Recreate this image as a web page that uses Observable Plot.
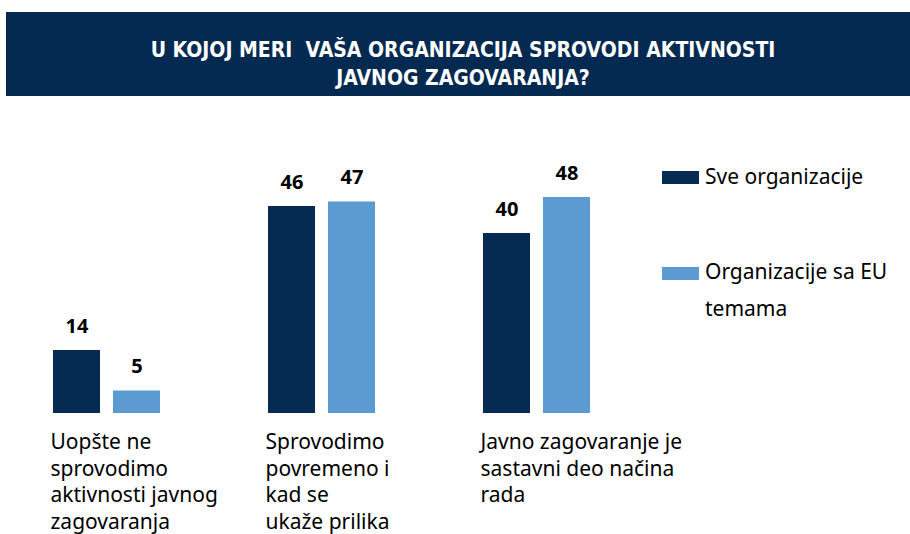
<!DOCTYPE html>
<html><head><meta charset="utf-8">
<script src="https://cdn.jsdelivr.net/npm/d3@7"></script>
<script src="https://cdn.jsdelivr.net/npm/@observablehq/plot@0.6"></script>
<style>
body{margin:0;width:910px;height:534px;overflow:hidden;background:#fff;position:relative;font-family:"Noto Sans",sans-serif}
#title{position:absolute;left:6px;top:12px;width:904px;height:84px;background:#052a52;color:#fff;font-family:"Liberation Sans Narrow","DejaVu Sans Condensed",sans-serif;font-weight:bold;font-size:21px;text-align:center;line-height:28px;box-sizing:border-box;padding-top:24px;padding-left:10px;white-space:pre}
#chart{position:absolute;left:0;top:96px}
.sw{position:absolute;width:37px;height:13px}
.lt{position:absolute;left:705px;font-size:21px;line-height:37px;color:#000;white-space:nowrap}
</style></head>
<body>
<div id="title"></div>
<div id="chart"></div>
<div id="legend"></div>
<script>
const titleLines = ["U KOJOJ MERI  VAŠA ORGANIZACIJA SPROVODI AKTIVNOSTI", "JAVNOG ZAGOVARANJA?"];
const categories = ["Uopšte ne sprovodimo aktivnosti javnog zagovaranja", "Sprovodimo povremeno i kad se ukaže prilika", "Javno zagovaranje je sastavni deo načina rada"];
const categoryLabels = ["Uopšte ne\nsprovodimo\naktivnosti javnog\nzagovaranja", "Sprovodimo\npovremeno i\nkad se\nukaže prilika", "Javno zagovaranje je\nsastavni deo načina\nrada"];
const series = ["Sve organizacije", "Organizacije sa EU temama"];
const legendLabels = ["Sve organizacije", "Organizacije sa EU\ntemama"];
const sveValues = [14, 46, 40];
const euValues = [5, 47, 48];
const colors = ["#062b53", "#5b9bd1"];

document.getElementById("title").textContent = titleLines.join("\n");

const rows = [];
categories.forEach((c, i) => {
  rows.push({cat: c, series: series[0], value: sveValues[i]});
  rows.push({cat: c, series: series[1], value: euValues[i]});
});
const catRows = categories.map((c, i) => ({cat: c, label: categoryLabels[i]}));

const chart = Plot.plot({
  width: 910,
  height: 438,
  marginLeft: 51,
  marginRight: 319,
  marginTop: 92,
  marginBottom: 121,
  style: {fontFamily: "'Noto Sans', sans-serif", background: "transparent"},
  fx: {domain: categories, paddingInner: 0.494, paddingOuter: 0, axis: null, label: null},
  x: {domain: series, paddingInner: 0.213, paddingOuter: 0, axis: null, label: null},
  y: {domain: [0, 50], axis: null},
  color: {domain: series, range: colors},
  marks: [
    Plot.barY(rows, {fx: "cat", x: "series", y: "value", fill: "series"}),
    Plot.text(rows, {fx: "cat", x: "series", y: "value", text: d => String(d.value), lineAnchor: "bottom", dy: -18, fontWeight: "bold", fontSize: 20, fill: "#000"}),
    Plot.text(catRows, {fx: "cat", text: "label", frameAnchor: "bottom-left", textAnchor: "start", lineAnchor: "top", dy: 17, dx: -2, fontSize: 21, lineHeight: 1.262, fill: "#000"})
  ]
});
document.getElementById("chart").appendChild(chart);

const leg = document.getElementById("legend");
const swTops = [171, 267];
const txtTops = [158, 253];
series.forEach((s, i) => {
  const sw = document.createElement("div");
  sw.className = "sw";
  sw.style.left = "662px";
  sw.style.top = swTops[i] + "px";
  sw.style.background = colors[i];
  leg.appendChild(sw);
  const t = document.createElement("div");
  t.className = "lt";
  t.style.top = txtTops[i] + "px";
  t.innerHTML = legendLabels[i].split("\n").map(x => x.replace(/&/g, "&amp;")).join("<br>");
  leg.appendChild(t);
});
</script>
</body></html>
